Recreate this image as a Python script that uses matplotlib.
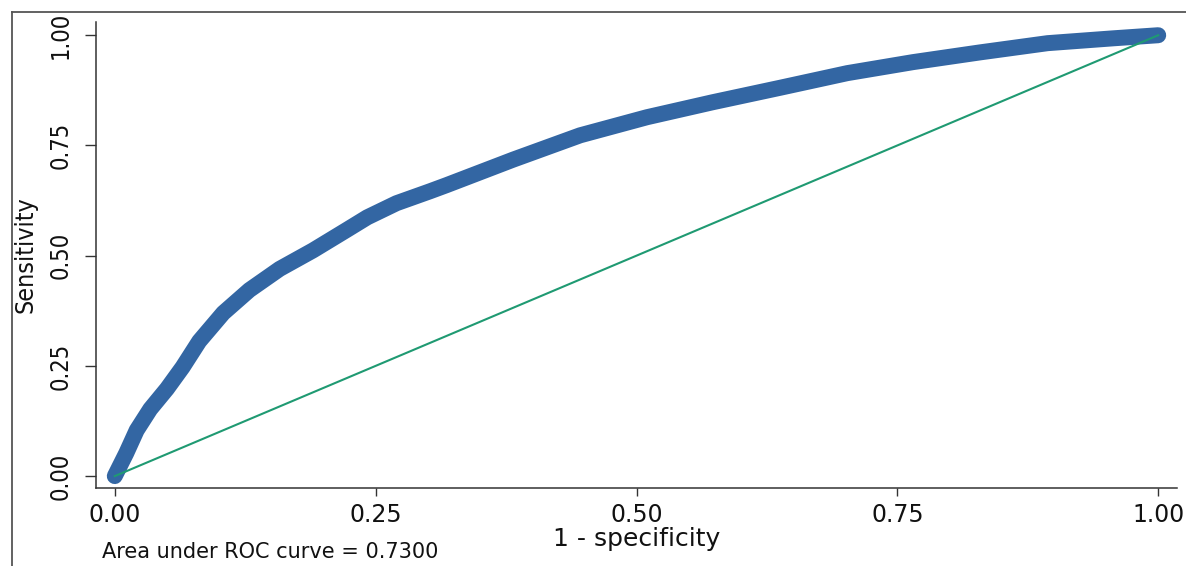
import matplotlib
matplotlib.use("Agg")
import matplotlib.pyplot as plt
from matplotlib.lines import Line2D

# ROC curve points
fpr = [0.0, 0.011, 0.021, 0.034, 0.050, 0.065, 0.081, 0.104, 0.129, 0.158,
       0.190, 0.222, 0.242, 0.270, 0.302, 0.318, 0.382, 0.446, 0.510, 0.573,
       0.638, 0.702, 0.765, 0.829, 0.894, 0.957, 1.0]
tpr = [0.0, 0.052, 0.104, 0.152, 0.198, 0.247, 0.306, 0.370, 0.422, 0.470,
       0.512, 0.558, 0.587, 0.619, 0.646, 0.660, 0.718, 0.773, 0.814, 0.848,
       0.881, 0.914, 0.939, 0.961, 0.982, 0.993, 1.0]
ref_x = [0.0, 1.0]
ref_y = [0.0, 1.0]
ticks = [0.0, 0.25, 0.5, 0.75, 1.0]
tick_labels = ['0.00', '0.25', '0.50', '0.75', '1.00']
auc_text = 'Area under ROC curve = 0.7300'

W, H = 1186, 566
fig = plt.figure(figsize=(W / 100, H / 100), dpi=100)
fig.patch.set_facecolor('white')

# axes box in pixels: left 96, right 1177, top 22, bottom 488
ax = fig.add_axes([96 / W, (H - 488) / H, (1177 - 96) / W, (488 - 22) / H])
ax.set_xlim(-0.018, 1.018)
ax.set_ylim(-0.027, 1.03)

ax.plot(fpr, tpr, color='#3366a3', lw=11.5, solid_capstyle='round',
        solid_joinstyle='round', clip_on=False, zorder=2)
ax.plot(ref_x, ref_y, color='#1f9a72', lw=1.5, zorder=3)

for s in ['top', 'right']:
    ax.spines[s].set_visible(False)
for s in ['left', 'bottom']:
    ax.spines[s].set_color('#333333')
    ax.spines[s].set_linewidth(1.1)

ax.set_xticks(ticks)
ax.set_xticklabels(tick_labels, family='DejaVu Sans', fontsize=17, color='#111111')
ax.set_yticks(ticks)
ax.set_yticklabels(tick_labels, family='DejaVu Sans', stretch='condensed',
                   fontsize=17, color='#111111', rotation=90, va='center')
ax.tick_params(axis='x', direction='out', length=6, width=1, color='#333333', pad=5)
ax.tick_params(axis='y', direction='out', length=8, width=1, color='#333333', pad=9)

ax.set_xlabel('1 - specificity', family='DejaVu Sans', fontsize=18,
              color='#111111', labelpad=0)
ax.set_ylabel('Sensitivity', family='DejaVu Sans', stretch='condensed',
              fontsize=18, color='#111111')
ax.yaxis.set_label_coords(-0.054, 0.5)

fig.text(102 / W, 4 / H, auc_text, family='DejaVu Sans', fontsize=15,
         color='#111111', ha='left', va='bottom')

# outer frame of the scanned graph region
fx = 12 / W
fy = 1 - 12 / H
fig.add_artist(Line2D([fx, fx], [0, fy], transform=fig.transFigure,
                      color='#555555', lw=1.3))
fig.add_artist(Line2D([fx, 1], [fy, fy], transform=fig.transFigure,
                      color='#555555', lw=1.3))

fig.savefig('out.png', dpi=100)
